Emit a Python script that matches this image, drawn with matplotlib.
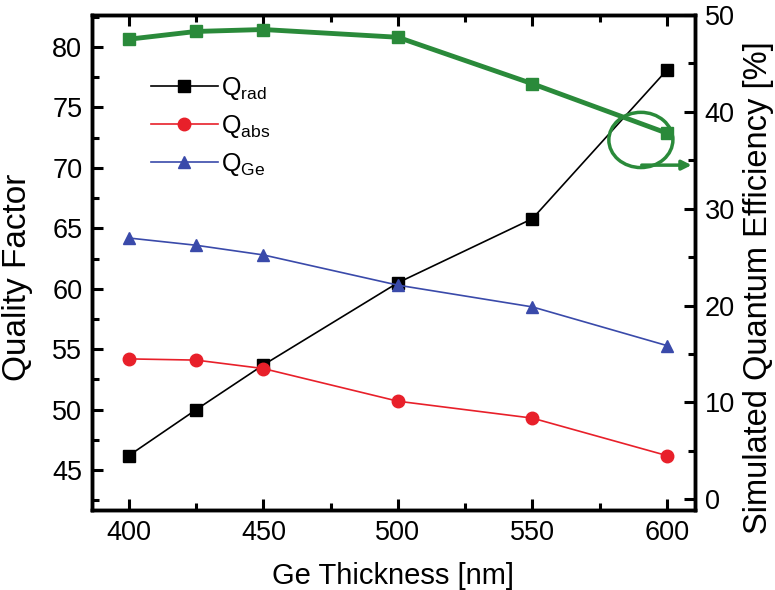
import matplotlib
matplotlib.use("Agg")
import matplotlib.pyplot as plt
from matplotlib.patches import Ellipse
from matplotlib.ticker import MultipleLocator

# data
thickness = [400, 425, 450, 500, 550, 600]
q_rad = [46.2, 50.0, 53.7, 60.5, 65.8, 78.1]
q_abs = [54.2, 54.1, 53.4, 50.7, 49.3, 46.2]
q_ge = [64.2, 63.6, 62.8, 60.3, 58.5, 55.3]
efficiency = [47.5, 48.3, 48.5, 47.7, 42.9, 37.8]

plt.rcParams['font.family'] = ['Liberation Sans', 'DejaVu Sans']

fig = plt.figure(figsize=(7.75, 5.9), dpi=100)
ax = fig.add_axes([0.1187, 0.1356, 0.778, 0.839])
ax2 = ax.twinx()

ax.plot(thickness, q_rad, color='black', marker='s', ms=8, lw=1.2, label='Q$_{\\mathregular{rad}}$')
ax.plot(thickness, q_abs, color='#e8202a', marker='o', ms=9, lw=1.2, label='Q$_{\\mathregular{abs}}$')
ax.plot(thickness, q_ge, color='#3a4aaa', marker='^', ms=9, lw=1.2, label='Q$_{\\mathregular{Ge}}$')
ax2.plot(thickness, efficiency, color='#2a8a3a', marker='s', ms=8, lw=3.5)

ax.set_xlim(386.3, 610.4)
ax.set_ylim(41.7, 82.65)
ax2.set_ylim(-1.1, 50)

ax.xaxis.set_major_locator(MultipleLocator(50))
ax.xaxis.set_minor_locator(MultipleLocator(25))
ax.yaxis.set_major_locator(MultipleLocator(5))
ax.yaxis.set_minor_locator(MultipleLocator(2.5))
ax2.yaxis.set_major_locator(MultipleLocator(10))
ax2.yaxis.set_minor_locator(MultipleLocator(5))

for a in (ax, ax2):
    for s in a.spines.values():
        s.set_linewidth(2.5)
    a.tick_params(which='major', direction='in', length=8, width=2.2, labelsize=19.5, pad=7)
    a.tick_params(which='minor', direction='in', length=5, width=2.2)
ax.tick_params(axis='x', which='both', top=True)

ax.set_xlabel('Ge Thickness [nm]', fontsize=21, labelpad=12)
ax.set_ylabel('Quality Factor', fontsize=24, labelpad=4)
ax.yaxis.set_label_coords(-0.098, 0.47)
ax2.set_ylabel('Simulated Quantum Efficiency [%]', fontsize=23.5, labelpad=6)
ax2.yaxis.set_label_coords(1.08, 0.45)

ax.legend(loc='upper left', bbox_to_anchor=(0.06, 0.925), frameon=False,
          fontsize=18, handlelength=2.7, labelspacing=0.45, handletextpad=0.1)

# circle + arrow annotation pointing to the right axis
ax2.add_patch(Ellipse((590.3, 37.1), 23.8, 5.7, fill=False, ec='#2a8a3a', lw=2.5))
ax2.annotate('', xy=(610.2, 34.5), xytext=(589.6, 34.5),
             arrowprops=dict(arrowstyle='-|>', color='#2a8a3a', lw=2.5, mutation_scale=14))

fig.savefig('out.png', dpi=100)
